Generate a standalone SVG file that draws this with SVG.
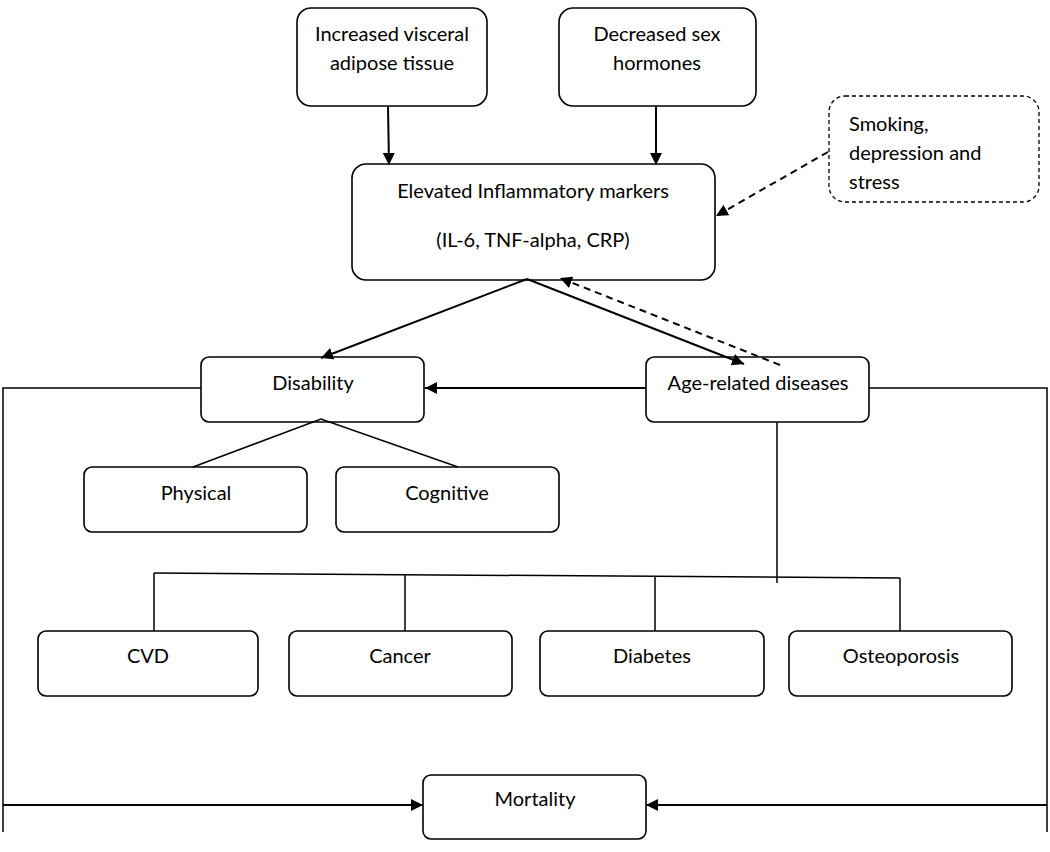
<svg xmlns="http://www.w3.org/2000/svg" width="1050" height="852" viewBox="0 0 1050 852">
<style>
.box{fill:#fff;stroke:#000;stroke-width:1.6}
.dbox{fill:#fff;stroke:#000;stroke-width:1.3;stroke-dasharray:4 3}
.t{font-family:Lato,"Liberation Sans",sans-serif;font-size:20px;fill:#000;text-anchor:middle;dominant-baseline:central}
.tl{font-family:Lato,"Liberation Sans",sans-serif;font-size:20px;fill:#000;dominant-baseline:central}
.ln{fill:none;stroke:#000;stroke-width:1.5}
.ar{fill:none;stroke:#000;stroke-width:2}
.da{fill:none;stroke:#000;stroke-width:2;stroke-dasharray:7 5}
</style>
<defs>
<marker id="ah" viewBox="0 0 10 10" refX="10" refY="5" markerWidth="12" markerHeight="12" markerUnits="userSpaceOnUse" orient="auto">
<path d="M0,0 L10,5 L0,10 Z" fill="#000"/>
</marker>
</defs>
<rect width="1050" height="852" fill="#fff"/>
<g id="n-visceral"><rect class="box" x="297" y="8" width="190" height="98" rx="14"/><text class="t" x="392" y="33">Increased visceral</text><text class="t" x="392" y="62">adipose tissue</text></g>
<g id="n-hormones"><rect class="box" x="559" y="8" width="197" height="98" rx="14"/><text class="t" x="657" y="33">Decreased sex</text><text class="t" x="657" y="62">hormones</text></g>
<g id="n-smoking"><rect class="dbox" x="829" y="96" width="210" height="106" rx="16"/><text class="tl" x="849" y="123">Smoking,</text><text class="tl" x="849" y="152">depression and</text><text class="tl" x="849" y="181">stress</text></g>
<g id="n-inflam"><rect class="box" x="352" y="164" width="363" height="116" rx="14"/><text class="t" x="533" y="190">Elevated Inflammatory markers</text><text class="t" x="533" y="239">(IL-6, TNF-alpha, CRP)</text></g>
<g id="n-disability"><rect class="box" x="201" y="357" width="223" height="65" rx="8"/><text class="t" x="313" y="382">Disability</text></g>
<g id="n-agerelated"><rect class="box" x="646" y="357" width="223" height="65" rx="8"/><text class="t" x="758" y="382">Age-related diseases</text></g>
<g id="n-physical"><rect class="box" x="84" y="467" width="223" height="65" rx="8"/><text class="t" x="196" y="492">Physical</text></g>
<g id="n-cognitive"><rect class="box" x="336" y="467" width="223" height="65" rx="8"/><text class="t" x="447" y="492">Cognitive</text></g>
<g id="n-cvd"><rect class="box" x="38" y="631" width="220" height="65" rx="8"/><text class="t" x="148" y="655">CVD</text></g>
<g id="n-cancer"><rect class="box" x="289" y="631" width="223" height="65" rx="8"/><text class="t" x="400" y="655">Cancer</text></g>
<g id="n-diabetes"><rect class="box" x="540" y="631" width="224" height="65" rx="8"/><text class="t" x="652" y="655">Diabetes</text></g>
<g id="n-osteo"><rect class="box" x="789" y="631" width="223" height="65" rx="8"/><text class="t" x="901" y="655">Osteoporosis</text></g>
<g id="n-mortality"><rect class="box" x="423" y="775" width="223" height="64" rx="8"/><text class="t" x="535" y="798">Mortality</text></g>
<g id="connectors">
<line class="ar" x1="388" y1="106" x2="389" y2="165" marker-end="url(#ah)"/>
<line class="ar" x1="656" y1="106" x2="656" y2="165" marker-end="url(#ah)"/>
<line class="da" x1="828" y1="152" x2="716" y2="216" marker-end="url(#ah)"/>
<line class="ar" x1="527" y1="279" x2="321" y2="358" marker-end="url(#ah)"/>
<line class="ar" x1="527" y1="279" x2="744" y2="364" marker-end="url(#ah)"/>
<line class="da" x1="780" y1="365" x2="560" y2="278" marker-end="url(#ah)"/>
<line class="ar" x1="646" y1="388" x2="425" y2="388" marker-end="url(#ah)"/>
<polyline class="ln" points="201,388 3,388 3,832"/>
<polyline class="ln" points="869,388 1047,388 1047,832"/>
<line class="ar" x1="3" y1="805" x2="423" y2="805" marker-end="url(#ah)"/>
<line class="ar" x1="1047" y1="805" x2="646" y2="805" marker-end="url(#ah)"/>
<polyline class="ln" points="193,467 321,419 458,467"/>
<line class="ln" x1="777" y1="422" x2="777" y2="583"/>
<line class="ln" x1="154" y1="573" x2="900" y2="578"/>
<line class="ln" x1="154" y1="573" x2="154" y2="631"/>
<line class="ln" x1="405" y1="575" x2="405" y2="631"/>
<line class="ln" x1="655" y1="576" x2="655" y2="631"/>
<line class="ln" x1="900" y1="578" x2="900" y2="631"/>
</g>
</svg>
